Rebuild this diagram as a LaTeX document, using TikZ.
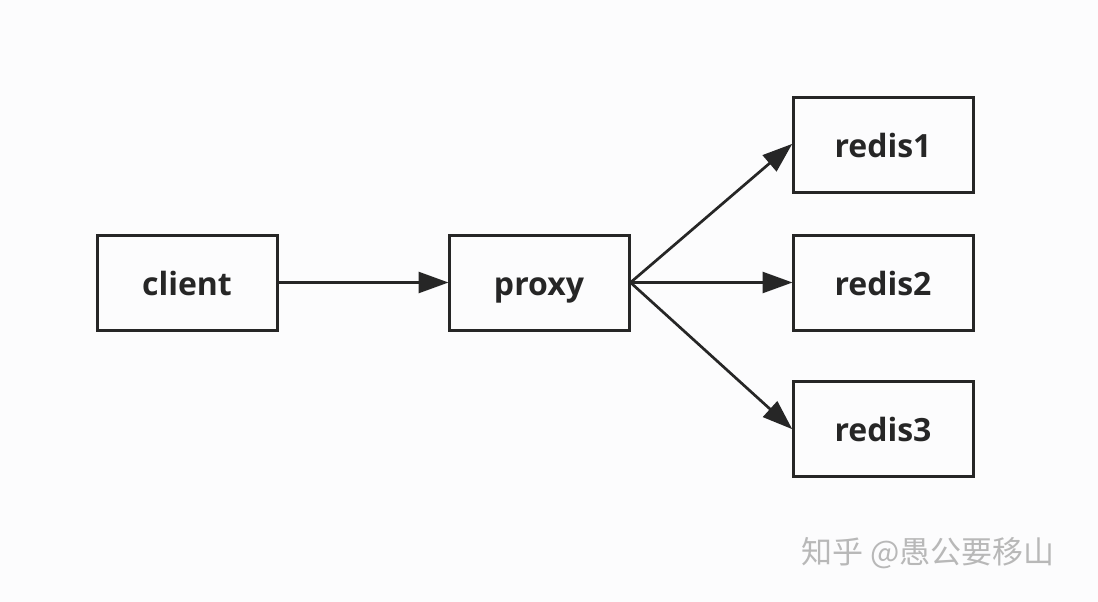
\documentclass[tikz,border=0pt]{standalone}
\usepackage{fontspec}
\setmainfont{Open Sans}
\newfontfamily\cjk{Noto Sans CJK SC}
\usetikzlibrary{arrows.meta}
\definecolor{ink}{HTML}{262626}
\definecolor{bgc}{HTML}{FCFCFD}
\tikzset{
  box/.style={draw=ink, line width=3pt, minimum width=180pt, minimum height=95pt, inner sep=0pt,
    font=\fontsize{32}{36}\selectfont\bfseries, text=ink, text height=28pt, text depth=2pt},
  conn/.style={draw=ink, line width=2.7pt, -{Triangle[length=30pt,width=21pt]}, shorten >=-1pt},
}
\begin{document}
\begin{tikzpicture}[x=1pt,y=-1pt]
\fill[bgc] (0,0) rectangle (1098,602);
\useasboundingbox (0,0) rectangle (1098,602);
\node[box] (client) at (187,282.5) {client};
\node[box] (proxy) at (539,282.5) {proxy};
\node[box] (r1) at (883,144.5) {redis1};
\node[box] (r2) at (883,282.5) {redis2};
\node[box] (r3) at (883,428.5) {redis3};
\draw[conn] (client.east) -- (proxy.west);
\draw[conn] (proxy.east) -- (r1.west);
\draw[conn] (proxy.east) -- (r2.west);
\draw[conn] (proxy.east) -- (r3.west);
\node[text=black!28, font=\cjk\fontsize{31}{34}\selectfont, anchor=west] (wm) at (798,553) {知乎 @愚公要移山};
\end{tikzpicture}
\end{document}
